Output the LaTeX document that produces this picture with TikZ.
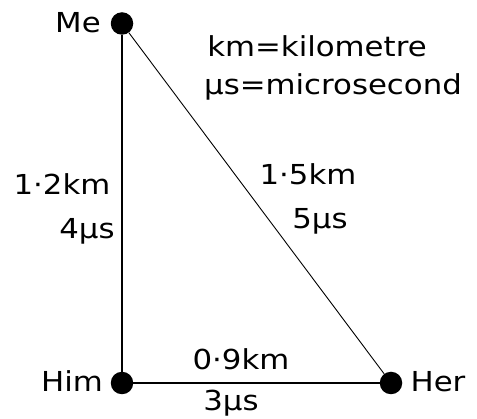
\documentclass[tikz,border=0pt]{standalone}
\usepackage{fontspec}
\setmainfont{DejaVu Sans}[FakeStretch=1.12]
\begin{document}
\begin{tikzpicture}[x=1pt,y=-1pt,
  dot/.style={circle,fill=black,inner sep=0pt,minimum size=22.5pt},
  lbl/.style={inner sep=0pt,anchor=base,font=\fontsize{27.5}{32}\selectfont},
  edge/.style={line width=1.3pt}]
\useasboundingbox (0,0) rectangle (477,419);
\node[dot] (me) at (122,23.5) {};
\node[dot] (him) at (122,383) {};
\node[dot] (her) at (391,383) {};
\draw[edge] (me) -- (him);
\draw[edge] (him) -- (her);
\draw[line width=0.9pt] (me) -- (her);
\node[lbl] (tme) at (78,33) {Me};
\node[lbl] (thim) at (72,392) {Him};
\node[lbl] (ther) at (438,392) {Her};
\node[lbl] (k1) at (317,57) {km=kilometre};
\node[lbl] (k2) at (333,95) {µs=microsecond};
\node[lbl] (a1) at (62,195) {1·2km};
\node[lbl] (a2) at (87,239) {4µs};
\node[lbl] (b1) at (308,185) {1·5km};
\node[lbl] (b2) at (320,229) {5µs};
\node[lbl] (c1) at (241,370) {0·9km};
\node[lbl] (c2) at (231,411) {3µs};
\end{tikzpicture}
\end{document}
